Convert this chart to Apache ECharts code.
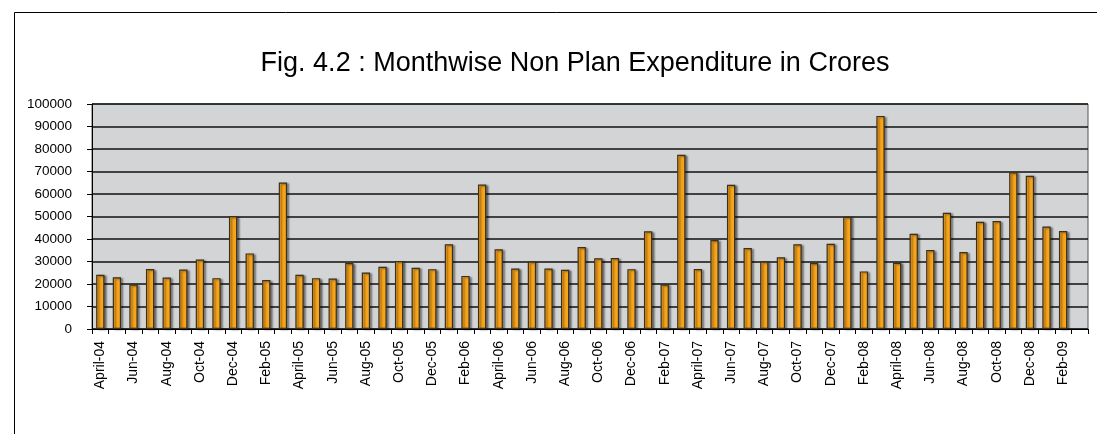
<!DOCTYPE html>
<html>
<head>
<meta charset="utf-8">
<script src="https://cdn.jsdelivr.net/npm/echarts@6/dist/echarts.min.js"></script>
<style>
  html, body { margin: 0; padding: 0; background: #fff; }
  #chart { width: 1097px; height: 434px; }
</style>
</head>
<body>
<div id="chart"></div>
<script>
// months, April-04 .. March-09 (last month has no value)
const months = [
  'April-04', 'May-04', 'Jun-04', 'Jul-04', 'Aug-04', 'Sep-04', 'Oct-04', 'Nov-04', 'Dec-04', 'Jan-05', 'Feb-05', 'Mar-05',
  'April-05', 'May-05', 'Jun-05', 'Jul-05', 'Aug-05', 'Sep-05', 'Oct-05', 'Nov-05', 'Dec-05', 'Jan-06', 'Feb-06', 'Mar-06',
  'April-06', 'May-06', 'Jun-06', 'Jul-06', 'Aug-06', 'Sep-06', 'Oct-06', 'Nov-06', 'Dec-06', 'Jan-07', 'Feb-07', 'Mar-07',
  'April-07', 'May-07', 'Jun-07', 'Jul-07', 'Aug-07', 'Sep-07', 'Oct-07', 'Nov-07', 'Dec-07', 'Jan-08', 'Feb-08', 'Mar-08',
  'April-08', 'May-08', 'Jun-08', 'Jul-08', 'Aug-08', 'Sep-08', 'Oct-08', 'Nov-08', 'Dec-08', 'Jan-09', 'Feb-09', 'Mar-09'
]

// non plan expenditure, crores
const expenditure = [
  24100, 23000, 19800, 26700, 22900, 26400, 30900, 22600, 50200, 33600, 21800, 65100,
  24100, 22600, 22400, 29300, 25100, 27700, 30200, 27200, 26600, 37700, 23600, 64200,
  35400, 26900, 30000, 26900, 26300, 36400, 31400, 31500, 26600, 43400, 19800, 77400,
  26700, 39500, 64100, 36000, 30000, 31900, 37700, 29300, 37900, 49900, 25600, 94700,
  29400, 42300, 35100, 51700, 34200, 47700, 48000, 69700, 68100, 45500, 43500, null
]

const titleText = 'Fig. 4.2 : Monthwise Non Plan Expenditure in Crores'

const chart = echarts.init(document.getElementById('chart'), null, { renderer: 'canvas' })

const font = "'Liberation Sans', Arial, sans-serif"

chart.setOption({
  animation: false,
  backgroundColor: '#fff',
  textStyle: { fontFamily: font },
  title: {
    text: titleText,
    left: 570,
    textAlign: 'center',
    top: 45,
    textStyle: { fontFamily: font, fontSize: 27, fontWeight: 'normal', color: '#000' }
  },
  graphic: [{
    type: 'rect',
    shape: { x: 14.5, y: 12.5, width: 1100, height: 440 },
    style: { fill: 'none', stroke: '#000', lineWidth: 1 },
    silent: true
  }],
  grid: {
    left: 92,
    right: 9,
    top: 104,
    bottom: 105,
    show: true,
    backgroundColor: '#d3d4d6',
    borderColor: '#555',
    borderWidth: 1
  },
  xAxis: {
    type: 'category',
    data: months,
    boundaryGap: true,
    axisLine: { lineStyle: { color: '#000', width: 1 } },
    axisTick: { show: true, interval: 0, length: 5, lineStyle: { color: '#000' } },
    axisLabel: {
      interval: 1,
      rotate: 90,
      margin: 12,
      fontSize: 14,
      color: '#000',
      fontFamily: font
    },
    splitLine: { show: false }
  },
  yAxis: {
    type: 'value',
    min: 0,
    max: 100000,
    interval: 10000,
    axisLine: { show: true, lineStyle: { color: '#000', width: 1 } },
    axisTick: { show: true, length: 5, lineStyle: { color: '#000' } },
    axisLabel: {
      fontSize: 13.5,
      color: '#000',
      margin: 20,
      fontFamily: font,
      formatter: (v) => String(v)
    },
    splitLine: { show: true, lineStyle: { color: '#111', width: 1.5 } }
  },
  series: [{
    type: 'bar',
    data: expenditure,
    barWidth: '50%',
    itemStyle: {
      color: '#f9a51b',
      borderColor: '#3a3020',
      borderWidth: 1.2,
      shadowColor: 'rgba(0,0,0,0.45)',
      shadowBlur: 2,
      shadowOffsetX: 2,
      shadowOffsetY: 1
    }
  }]
})
</script>
</body>
</html>
